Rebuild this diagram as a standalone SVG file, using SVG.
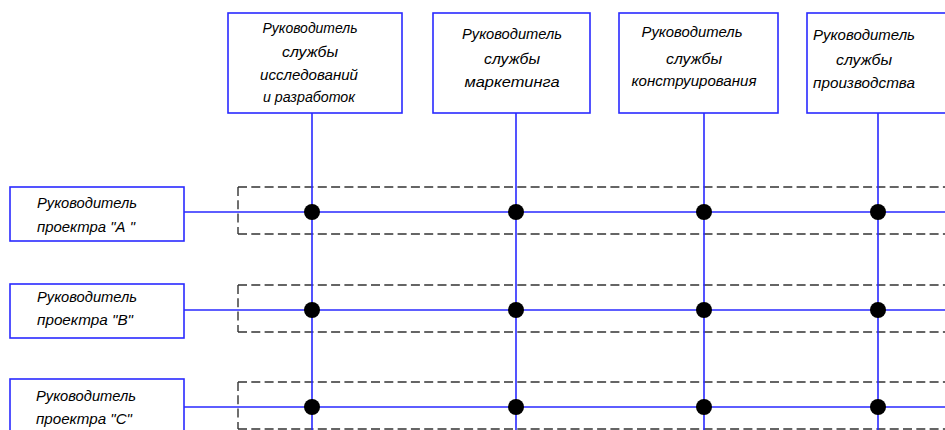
<svg xmlns="http://www.w3.org/2000/svg" width="945" height="430" viewBox="0 0 945 430">
<style>
.box{fill:#fff;stroke:#2a2aff;stroke-width:1.6}
.ln{stroke:#2a2aff;stroke-width:1.6;fill:none}
.dash{stroke:#333;stroke-width:1.4;fill:none;stroke-dasharray:9 4.3}
.dot{fill:#000}
text{font-family:"Liberation Sans",Arial,sans-serif;font-style:italic;font-size:15px;fill:#000}
.c{text-anchor:middle}
</style>
<rect width="945" height="430" fill="#fff"/>
<g id="groups">
<path class="dash" d="M238 187H945M238 234H945M238 187V234"/>
<path class="dash" d="M238 285H945M238 332H945M238 285V332"/>
<path class="dash" d="M238 382H945M238 429H945M238 382V429"/>
</g>
<g id="connectors">
<path class="ln" d="M312 113V430M516 113V430M704 113V430M878 113V430"/>
<path class="ln" d="M184 212H945M184 310H945M184 407H945"/>
</g>
<g id="dots">
<circle class="dot" cx="312" cy="212" r="8"/><circle class="dot" cx="516" cy="212" r="8"/><circle class="dot" cx="704" cy="212" r="8"/><circle class="dot" cx="878" cy="212" r="8"/>
<circle class="dot" cx="312" cy="310" r="8"/><circle class="dot" cx="516" cy="310" r="8"/><circle class="dot" cx="704" cy="310" r="8"/><circle class="dot" cx="878" cy="310" r="8"/>
<circle class="dot" cx="312" cy="407" r="8"/><circle class="dot" cx="516" cy="407" r="8"/><circle class="dot" cx="704" cy="407" r="8"/><circle class="dot" cx="878" cy="407" r="8"/>
</g>
<g id="head-rd">
<rect class="box" x="228" y="13" width="174" height="100"/>
<text class="c" x="310" y="33" textLength="95" lengthAdjust="spacingAndGlyphs">Руководитель</text>
<text class="c" x="310" y="57" textLength="56" lengthAdjust="spacingAndGlyphs">службы</text>
<text class="c" x="309" y="80" textLength="98" lengthAdjust="spacingAndGlyphs">исследований</text>
<text class="c" x="309" y="102" textLength="92" lengthAdjust="spacingAndGlyphs">и разработок</text>
</g>
<g id="head-marketing">
<rect class="box" x="433" y="13" width="157" height="100"/>
<text class="c" x="512" y="39" textLength="100" lengthAdjust="spacingAndGlyphs">Руководитель</text>
<text class="c" x="512" y="64" textLength="56" lengthAdjust="spacingAndGlyphs">службы</text>
<text class="c" x="512" y="87" textLength="95" lengthAdjust="spacingAndGlyphs">маркетинга</text>
</g>
<g id="head-design">
<rect class="box" x="619" y="13" width="159" height="100"/>
<text class="c" x="692" y="37" textLength="101" lengthAdjust="spacingAndGlyphs">Руководитель</text>
<text class="c" x="694" y="64" textLength="56" lengthAdjust="spacingAndGlyphs">службы</text>
<text class="c" x="694" y="86" textLength="125" lengthAdjust="spacingAndGlyphs">конструирования</text>
</g>
<g id="head-production">
<rect class="box" x="807" y="13" width="150" height="100"/>
<text class="c" x="864" y="40" textLength="102" lengthAdjust="spacingAndGlyphs">Руководитель</text>
<text class="c" x="864" y="65" textLength="56" lengthAdjust="spacingAndGlyphs">службы</text>
<text class="c" x="864" y="88" textLength="102" lengthAdjust="spacingAndGlyphs">производства</text>
</g>
<g id="pm-a">
<rect class="box" x="10" y="187" width="174" height="54"/>
<text x="37" y="208" textLength="100" lengthAdjust="spacingAndGlyphs">Руководитель</text>
<text x="37" y="232" textLength="98" lengthAdjust="spacingAndGlyphs">проектра "А "</text>
</g>
<g id="pm-b">
<rect class="box" x="10" y="284" width="174" height="54"/>
<text x="37" y="302" textLength="100" lengthAdjust="spacingAndGlyphs">Руководитель</text>
<text x="37" y="325" textLength="96" lengthAdjust="spacingAndGlyphs">проектра "В"</text>
</g>
<g id="pm-c">
<rect class="box" x="10" y="379" width="174" height="60"/>
<text x="36" y="401" textLength="100" lengthAdjust="spacingAndGlyphs">Руководитель</text>
<text x="36" y="424" textLength="96" lengthAdjust="spacingAndGlyphs">проектра "С"</text>
</g>
</svg>
